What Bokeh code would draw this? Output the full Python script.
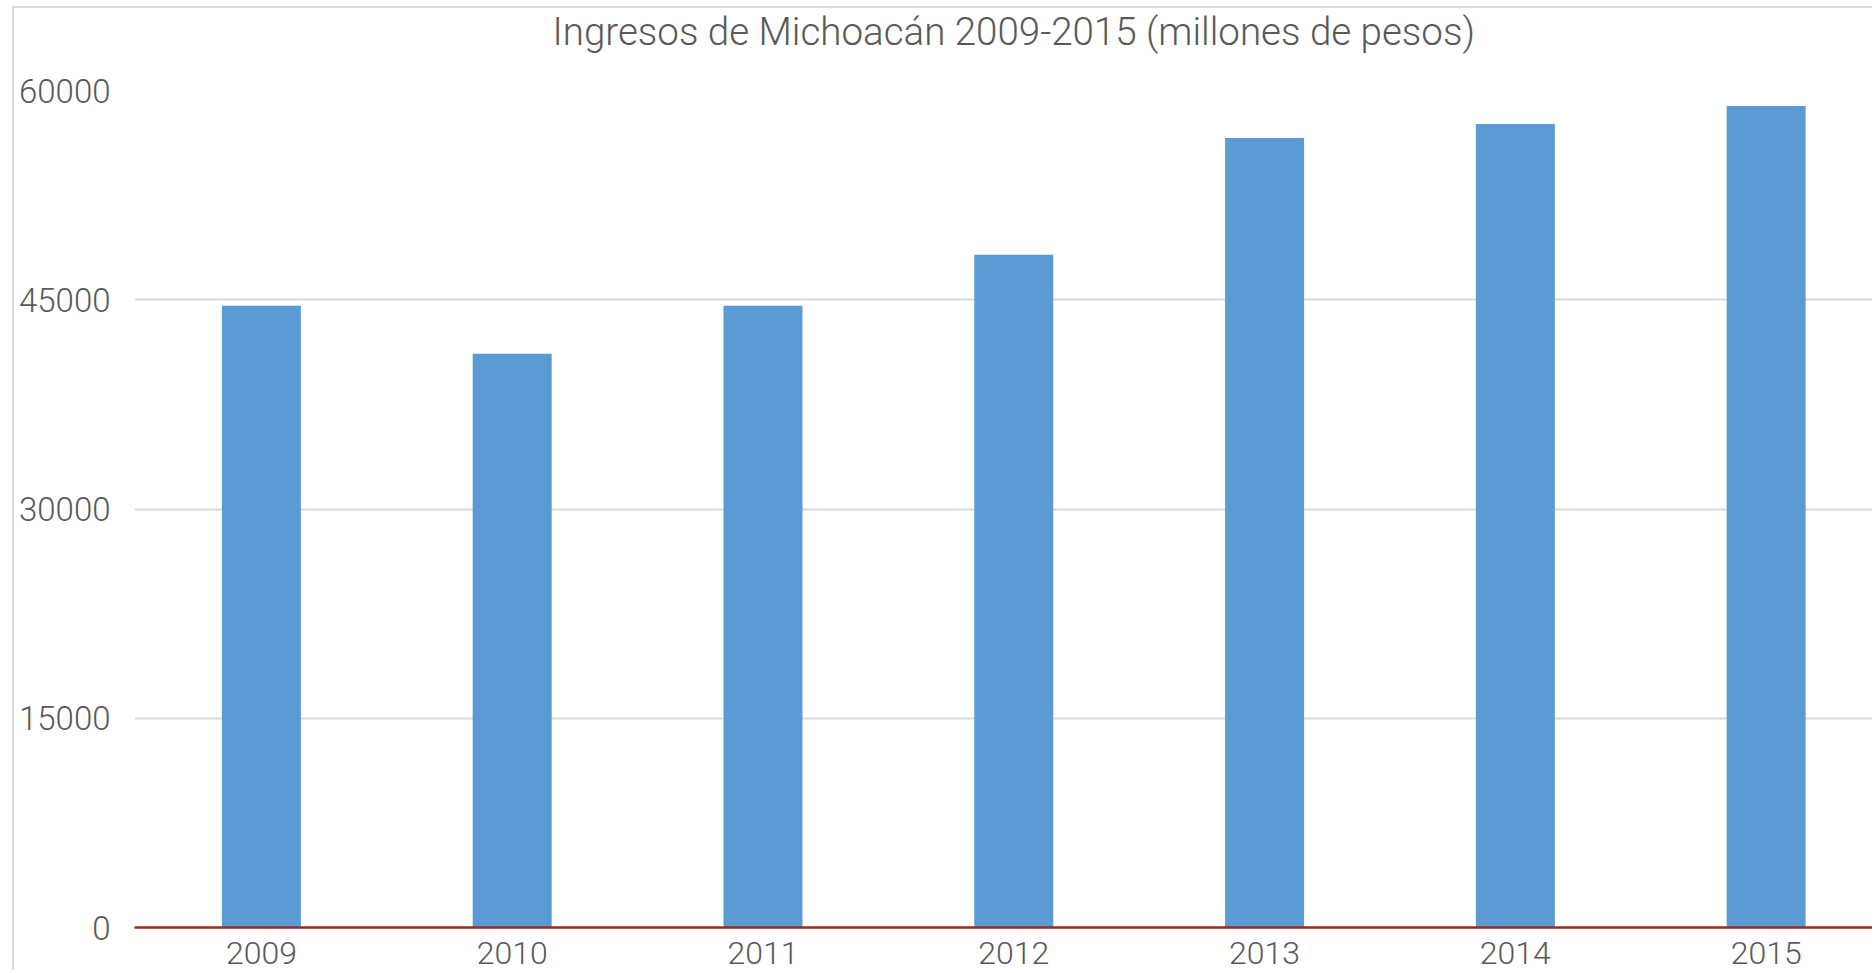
from bokeh.plotting import figure
from bokeh.models import Range1d, FixedTicker, Title
from bokeh.embed import file_html
from bokeh.resources import INLINE

# ---- data ----
years = ["2009", "2010", "2011", "2012", "2013", "2014", "2015"]
ingresos = [44570, 41130, 44570, 48220, 56600, 57600, 58890]
y_ticks = [0, 15000, 30000, 45000, 60000]
title_text = "Ingresos de Michoacán 2009-2015 (millones de pesos)"

FONT = "Roboto Light"
TXT = "#595959"
W, H = 1860, 964

xs = list(range(len(years)))

p = figure(
    width=W, height=H,
    output_backend="svg", toolbar_location=None,
    x_range=Range1d(-0.506, 6.432), y_range=Range1d(0, 60000),
    min_border_left=120, min_border_right=0,
    min_border_top=82, min_border_bottom=45,
)
# chart-area border (left and top edges of the original chart box)
p.margin = (6, 0, 0, 12)
p.styles = {"border-left": "2px solid #d9d9d9", "border-top": "2px solid #d9d9d9"}

p.outline_line_color = None
p.background_fill_color = "white"
p.border_fill_color = "white"

# spacer between frame and title, then the title itself
p.add_layout(Title(text=" ", text_font_size="10px", standoff=28), "above")
p.add_layout(Title(text=title_text, align="left", offset=418,
                   text_font=FONT, text_font_style="normal",
                   text_font_size="38.5px", text_color=TXT, standoff=-8), "above")

p.vbar(x=xs, top=ingresos, width=0.315, bottom=0,
       fill_color="#5b9bd5", line_color=None)

# y axis
p.yaxis.ticker = FixedTicker(ticks=y_ticks)
p.yaxis.axis_line_color = None
p.yaxis.major_tick_line_color = None
p.yaxis.minor_tick_line_color = None
p.yaxis.major_label_standoff = 18
p.yaxis.major_label_text_font = FONT
p.yaxis.major_label_text_font_size = "33px"
p.yaxis.major_label_text_color = TXT

# x axis
p.xaxis.ticker = FixedTicker(ticks=xs)
p.xaxis.major_label_overrides = {i: y for i, y in zip(xs, years)}
p.xaxis.axis_line_color = "#9c2a1f"
p.xaxis.axis_line_width = 2.5
p.xaxis.major_tick_line_color = None
p.xaxis.minor_tick_line_color = None
p.xaxis.major_label_standoff = 8
p.xaxis.major_label_text_font = FONT
p.xaxis.major_label_text_font_size = "32px"
p.xaxis.major_label_text_color = TXT

p.xgrid.grid_line_color = None
p.ygrid.ticker = FixedTicker(ticks=y_ticks)
p.ygrid.grid_line_color = "#d9d9d9"
p.ygrid.grid_line_width = 2

open("out.html", "w").write(file_html(p, INLINE))
